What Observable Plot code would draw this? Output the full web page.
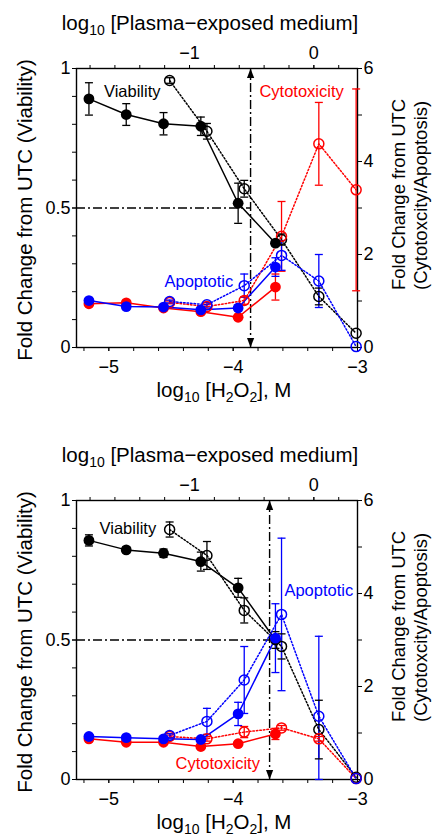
<!DOCTYPE html>
<html>
<head>
<meta charset="utf-8">
<script src="https://cdn.jsdelivr.net/npm/d3@7"></script>
<script src="https://cdn.jsdelivr.net/npm/@observablehq/plot@0.6"></script>
<style>
  html, body { margin: 0; padding: 0; background: #fff; }
  #chart svg { display: block; }
</style>
</head>
<body>
<div id="chart"></div>
<script>
// ---------- data ----------
// x positions: log10 [H2O2] (M) and log10 [plasma-exposed medium]
const h2o2Log = [-5.16, -4.86, -4.56, -4.26, -3.96, -3.66];
const plasmaLog = [-1.16, -0.86, -0.56, -0.26, 0.04, 0.34];
const plasmaAxisShift = 3.351;          // top axis value = bottom axis value + shift

const bottomTicks = [-5, -4, -3];
const topTicks = [-1, 0];
const leftTicks = [0, 0.5, 1];
const rightTicks = [0, 2, 4, 6];

// Panel A
const aViabH2o2 = [0.891, 0.835, 0.802, 0.793, 0.517, 0.374];
const aViabH2o2Err = [0.058, 0.039, 0.040, 0.033, 0.072, 0.010];
const aViabPlasma = [0.957, 0.775, 0.569, 0.387, 0.183, 0.051];
const aViabPlasmaErr = [0.010, 0.028, 0.030, 0.020, 0.030, 0.0];
const aCytoH2o2 = [0.94, 0.96, 0.85, 0.77, 0.65, 1.30];
const aCytoH2o2Err = [0.05, 0.05, 0.05, 0.05, 0.06, 0.28];
const aCytoPlasma = [0.97, 0.88, 1.01, 2.39, 4.38, 3.39];
const aCytoPlasmaErr = [0.03, 0.05, 0.08, 0.75, 0.89, 2.17];
const aApopH2o2 = [1.01, 0.88, 0.87, 0.81, 0.85, 1.73];
const aApopH2o2Err = [0.04, 0.03, 0.03, 0.03, 0.06, 0.20];
const aApopPlasma = [0.99, 0.92, 1.33, 1.98, 1.43, 0.02];
const aApopPlasmaErr = [0.03, 0.05, 0.25, 0.32, 0.57, 0.0];
const aIc50 = -3.86;

// Panel B
const bViabH2o2 = [0.857, 0.823, 0.811, 0.781, 0.687, 0.500];
const bViabH2o2Err = [0.020, 0.010, 0.015, 0.034, 0.034, 0.030];
const bViabPlasma = [0.896, 0.803, 0.606, 0.477, 0.179, 0.008];
const bViabPlasmaErr = [0.027, 0.050, 0.045, 0.045, 0.105, 0.0];
const bCytoH2o2 = [0.875, 0.80, 0.80, 0.71, 0.77, 0.98];
const bCytoH2o2Err = [0.03, 0.03, 0.03, 0.03, 0.04, 0.12];
const bCytoPlasma = [0.925, 0.875, 1.02, 1.11, 0.875, 0.02];
const bCytoPlasmaErr = [0.03, 0.05, 0.12, 0.05, 0.05, 0.0];
const bApopH2o2 = [0.925, 0.90, 0.875, 0.86, 1.41, 3.04];
const bApopH2o2Err = [0.03, 0.03, 0.03, 0.04, 0.25, 0.74];
const bApopPlasma = [0.946, 1.25, 2.14, 3.55, 1.36, 0.02];
const bApopPlasmaErr = [0.04, 0.28, 0.72, 1.64, 1.72, 0.0];
const bIc50 = -3.707;

// in-plot labels
const aLabels = [
  {text: "Viability", x: -4.812, v: 0.915, color: "black"},
  {text: "Cytotoxicity", x: -3.45, v: 0.918, color: "red"},
  {text: "Apoptotic", x: -4.276, v: 0.234, color: "blue"}
];
const bLabels = [
  {text: "Viability", x: -4.847, v: 0.899, color: "black"},
  {text: "Apoptotic", x: -3.311, v: 0.677, color: "blue"},
  {text: "Cytotoxicity", x: -4.124, v: 0.056, color: "red"}
];

// ---------- drawing ----------
const COLORS = {black: "#000000", red: "#ff0000", blue: "#0000ff"};
const RIGHT_MAX = 6;
const FONT = "Liberation Sans, Arial, Helvetica, sans-serif";
const fmt = d => (d < 0 ? "\u2212" : "") + String(Math.abs(d));

const capSymbol = {draw(ctx) { ctx.moveTo(-4, 0); ctx.lineTo(4, 0); }};
const upArrow = {draw(ctx) { ctx.moveTo(0, 0); ctx.lineTo(3.6, 9.5); ctx.lineTo(-3.6, 9.5); ctx.closePath(); }};
const downArrow = {draw(ctx) { ctx.moveTo(0, 0); ctx.lineTo(3.6, -9.5); ctx.lineTo(-3.6, -9.5); ctx.closePath(); }};

function buildRows(list) {
  const rows = [];
  for (const s of list) {
    const xs = s.plasma ? plasmaLog.map(t => t - plasmaAxisShift) : h2o2Log;
    const k = s.right ? 1 / RIGHT_MAX : 1;
    s.values.forEach((v, i) => {
      const e = s.errors[i];
      rows.push({
        key: s.key, x: xs[i], y: v * k,
        lo: Math.max(0, v - e) * k, hi: (v + e) * k, err: e,
        color: COLORS[s.color], filled: !s.plasma
      });
    });
  }
  return rows;
}

function panel(series, labels, ic50, height) {
  const rows = buildRows(series);
  const solid = rows.filter(d => d.filled);
  const dotted = rows.filter(d => !d.filled);
  const errRows = rows.filter(d => d.err > 0);
  const xDomain = [-5.26, -3.0];
  const minorBottom = d3.range(-5.2, -2.99, 0.2).map(v => +v.toFixed(2));
  const minorTop = d3.range(-1.8, 0.36, 0.2).map(v => +v.toFixed(2) - plasmaAxisShift);
  const minorLeft = d3.range(0, 1.001, 0.1);
  const minorRight = d3.range(0, 6.001, 1).map(v => v / RIGHT_MAX);

  const svg = Plot.plot({
    width: 432,
    height,
    marginLeft: 76,
    marginRight: 75,
    marginTop: 68,
    marginBottom: height - 347,
    style: {fontFamily: FONT, fontSize: "18px", background: "#fff"},
    x: {domain: xDomain, axis: null},
    y: {domain: [0, 1], axis: null},
    color: {type: "identity"},
    marks: [
      // axes: minor ticks then labelled ticks
      Plot.axisX({anchor: "bottom", ticks: minorBottom, tickSize: 4, tickFormat: () => "", label: null}),
      Plot.axisX({anchor: "bottom", ticks: bottomTicks, tickSize: 4, tickPadding: 9, tickFormat: fmt, label: null, fontSize: 18}),
      Plot.axisX({anchor: "top", ticks: minorTop, tickSize: 4, tickFormat: () => "", label: null}),
      Plot.axisX({anchor: "top", ticks: topTicks.map(t => t - plasmaAxisShift), tickSize: 4, tickPadding: 6,
        tickFormat: d => fmt(Math.round(d + plasmaAxisShift)), label: null, fontSize: 18}),
      Plot.axisY({anchor: "left", ticks: minorLeft, tickSize: 4, tickFormat: () => "", label: null}),
      Plot.axisY({anchor: "left", ticks: leftTicks, tickSize: 4, tickPadding: 2, tickFormat: d => String(d), label: null, fontSize: 18}),
      Plot.axisY({anchor: "right", ticks: minorRight, tickSize: 4, tickFormat: () => "", label: null}),
      Plot.axisY({anchor: "right", ticks: rightTicks.map(v => v / RIGHT_MAX), tickSize: 4, tickPadding: 2,
        tickFormat: d => String(Math.round(d * RIGHT_MAX)), label: null, fontSize: 18}),
      Plot.frame({stroke: "#000", strokeWidth: 1.4}),

      // IC50 guide lines
      Plot.ruleY([0.5], {x1: xDomain[0], x2: ic50, stroke: "#000", strokeWidth: 1.4, strokeDasharray: "9,3,2,3"}),
      Plot.ruleX([ic50], {y1: 0, y2: 1, stroke: "#000", strokeWidth: 1.4, strokeDasharray: "9,3,2,3"}),
      Plot.dot([ic50], {x: d => d, y: 1, symbol: upArrow, fill: "#000", stroke: "none"}),
      Plot.dot([ic50], {x: d => d, y: 0, symbol: downArrow, fill: "#000", stroke: "none"}),

      // error bars
      Plot.ruleX(errRows, {x: "x", y1: "lo", y2: "hi", stroke: "color", strokeWidth: 1.3}),
      Plot.dot(errRows, {x: "x", y: "lo", symbol: capSymbol, stroke: "color", fill: "none", strokeWidth: 1.3}),
      Plot.dot(errRows, {x: "x", y: "hi", symbol: capSymbol, stroke: "color", fill: "none", strokeWidth: 1.3}),

      // connecting lines
      Plot.line(solid, {x: "x", y: "y", z: "key", stroke: "color", strokeWidth: 1.5}),
      Plot.line(dotted, {x: "x", y: "y", z: "key", stroke: "color", strokeWidth: 1.5, strokeDasharray: "1.5,2"}),

      // markers
      Plot.dot(dotted, {x: "x", y: "y", r: 5, stroke: "color", fill: "none", strokeWidth: 1.5}),
      Plot.dot(solid, {x: "x", y: "y", r: 5.4, fill: "color", stroke: "none"}),

      // annotations
      Plot.text(labels, {x: "x", y: "v", text: "text", fill: d => COLORS[d.color], fontSize: 16.5, textAnchor: "middle"})
    ]
  });

  const s = d3.select(svg);
  // top axis title
  const t1 = s.append("text").attr("x", 210).attr("y", 29.5).attr("text-anchor", "middle")
    .attr("font-size", 20.5).attr("font-family", FONT).attr("fill", "#000");
  t1.append("tspan").text("log");
  t1.append("tspan").attr("font-size", 14).attr("dy", 5).text("10");
  t1.append("tspan").attr("dy", -5).text(" [Plasma\u2212exposed medium]");
  // bottom axis title
  const t2 = s.append("text").attr("x", 224).attr("y", 397).attr("text-anchor", "middle")
    .attr("font-size", 20.5).attr("font-family", FONT).attr("fill", "#000");
  t2.append("tspan").text("log");
  t2.append("tspan").attr("font-size", 14).attr("dy", 5).text("10");
  t2.append("tspan").attr("dy", -5).text(" [H");
  t2.append("tspan").attr("font-size", 14).attr("dy", 5).text("2");
  t2.append("tspan").attr("dy", -5).text("O");
  t2.append("tspan").attr("font-size", 14).attr("dy", 5).text("2");
  t2.append("tspan").attr("dy", -5).text("], M");
  // left title
  s.append("text").attr("transform", "translate(32,210) rotate(-90)").attr("text-anchor", "middle")
    .attr("font-size", 20.5).attr("font-family", FONT).attr("fill", "#000")
    .text("Fold Change from UTC (Viability)");
  // right title (two lines)
  s.append("text").attr("transform", "translate(405,290) rotate(-90)").attr("text-anchor", "start")
    .attr("font-size", 18.5).attr("font-family", FONT).attr("fill", "#000")
    .text("Fold Change from UTC");
  s.append("text").attr("transform", "translate(427,290) rotate(-90)").attr("text-anchor", "start")
    .attr("font-size", 18.5).attr("font-family", FONT).attr("fill", "#000")
    .text("(Cytotoxcity/Apoptosis)");
  return svg;
}

const seriesA = [
  {key: "viabH", values: aViabH2o2, errors: aViabH2o2Err, color: "black", plasma: false, right: false},
  {key: "viabP", values: aViabPlasma, errors: aViabPlasmaErr, color: "black", plasma: true, right: false},
  {key: "cytoH", values: aCytoH2o2, errors: aCytoH2o2Err, color: "red", plasma: false, right: true},
  {key: "cytoP", values: aCytoPlasma, errors: aCytoPlasmaErr, color: "red", plasma: true, right: true},
  {key: "apopH", values: aApopH2o2, errors: aApopH2o2Err, color: "blue", plasma: false, right: true},
  {key: "apopP", values: aApopPlasma, errors: aApopPlasmaErr, color: "blue", plasma: true, right: true}
];
const seriesB = [
  {key: "viabH", values: bViabH2o2, errors: bViabH2o2Err, color: "black", plasma: false, right: false},
  {key: "viabP", values: bViabPlasma, errors: bViabPlasmaErr, color: "black", plasma: true, right: false},
  {key: "cytoH", values: bCytoH2o2, errors: bCytoH2o2Err, color: "red", plasma: false, right: true},
  {key: "cytoP", values: bCytoPlasma, errors: bCytoPlasmaErr, color: "red", plasma: true, right: true},
  {key: "apopH", values: bApopH2o2, errors: bApopH2o2Err, color: "blue", plasma: false, right: true},
  {key: "apopP", values: bApopPlasma, errors: bApopPlasmaErr, color: "blue", plasma: true, right: true}
];

const root = document.getElementById("chart");
root.appendChild(panel(seriesA, aLabels, aIc50, 432));
root.appendChild(panel(seriesB, bLabels, bIc50, 404));
</script>
</body>
</html>
